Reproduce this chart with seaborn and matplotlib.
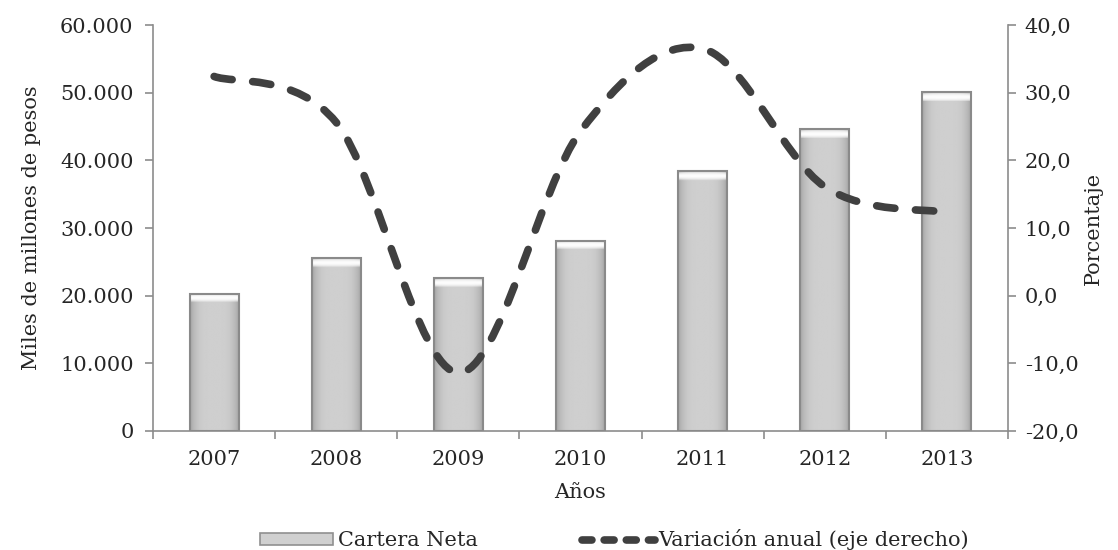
import numpy as np
import matplotlib
matplotlib.use("Agg")
import matplotlib.pyplot as plt
from matplotlib.path import Path
from matplotlib.patches import PathPatch, Patch
from matplotlib.lines import Line2D
from matplotlib.ticker import FuncFormatter, FixedLocator
import seaborn as sns

# data
years = ["2007", "2008", "2009", "2010", "2011", "2012", "2013"]
cartera_neta = [20300, 25500, 22600, 28100, 38400, 44600, 50100]
variacion = [32.4, 25.6, -11.4, 24.3, 36.5, 16.1, 12.3]

left_ticks = [0, 10000, 20000, 30000, 40000, 50000, 60000]
right_ticks = [-20, -10, 0, 10, 20, 30, 40]

sns.set_theme(style="white")
plt.rcParams["font.family"] = ["DejaVu Serif"]
fs = 15
axis_col = "#8c8c8c"
line_col = "#404040"

fig = plt.figure(figsize=(11.18, 5.5), dpi=100)
ax = fig.add_axes([0.1369, 0.2164, 0.9016 - 0.1369, 0.9545 - 0.2164])

sns.barplot(x=years, y=cartera_neta, ax=ax, width=0.4, color="#c4c4c4",
            edgecolor="#8a8a8a", linewidth=1.5, saturation=1)

# glassy gray gradient inside each bar
for p in ax.patches:
    x0, y0 = p.get_x(), p.get_y()
    w, h = p.get_width(), p.get_height()
    cols = np.linspace(-1, 1, 60)
    horiz = 0.81 - 0.16 * np.abs(cols) ** 4
    rows = np.linspace(0, 1, 300)
    band = 1300.0 / h
    top = np.clip((rows - (1 - band)) / band, 0, 1)
    img = horiz[None, :] + (0.99 - horiz[None, :]) * (np.sin(top * np.pi) ** 0.7)[:, None] * (rows > 1 - band)[:, None]
    im = ax.imshow(img, cmap="gray", vmin=0, vmax=1, aspect="auto",
                   extent=[x0, x0 + w, y0, y0 + h], origin="lower", zorder=2)
    im.set_clip_path(p)
    p.set_zorder(3)
    p.set_facecolor("none")

ax.set_xlim(-0.5, 6.5)
ax.set_ylim(0, 60000)
ax.set_yticks(left_ticks)
ax.yaxis.set_major_formatter(FuncFormatter(lambda v, _: f"{int(v):,}".replace(",", ".")))
ax.set_ylabel("Miles de millones de pesos", fontsize=fs, labelpad=14)
ax.set_xlabel("Años", fontsize=fs, labelpad=10)
ax.xaxis.set_minor_locator(FixedLocator(np.arange(-0.5, 7, 1)))
ax.tick_params(axis="x", which="major", length=0, labelsize=fs, pad=14)
ax.tick_params(axis="x", which="minor", length=6, width=1.2, color=axis_col, direction="out", bottom=True)
ax.tick_params(axis="y", length=6, width=1.2, color=axis_col, direction="out", labelsize=fs, left=True, pad=8)
for s in ["top", "right"]:
    ax.spines[s].set_visible(False)
for s in ["left", "bottom"]:
    ax.spines[s].set_color(axis_col)
    ax.spines[s].set_linewidth(1.2)

ax2 = ax.twinx()
ax2.set_ylim(-20, 40)
ax2.set_yticks(right_ticks)
ax2.yaxis.set_major_formatter(FuncFormatter(lambda v, _: f"{v:.1f}".replace(".", ",")))
ax2.tick_params(axis="y", length=6, width=1.2, color=axis_col, direction="out", labelsize=fs, right=True, pad=6)
ax2.set_ylabel("Porcentaje", fontsize=fs, labelpad=4)
for s in ["top", "left", "bottom"]:
    ax2.spines[s].set_visible(False)
ax2.spines["right"].set_color(axis_col)
ax2.spines["right"].set_linewidth(1.2)

# smoothed line (cubic Bezier segments through the data points)
xs = np.arange(len(years), dtype=float)
ys = np.array(variacion, dtype=float)
pts = np.column_stack([xs, ys])
ext = np.vstack([pts[0], pts, pts[-1]])
verts = [tuple(pts[0])]
codes = [Path.MOVETO]
for i in range(len(pts) - 1):
    p0, p1, p2, p3 = ext[i], ext[i + 1], ext[i + 2], ext[i + 3]
    c1 = p1 + (p2 - p0) / 6.0
    c2 = p2 - (p3 - p1) / 6.0
    verts += [tuple(c1), tuple(c2), tuple(p2)]
    codes += [Path.CURVE4] * 3
curve = PathPatch(Path(verts, codes), facecolor="none", edgecolor=line_col,
                  linewidth=5.5, linestyle=(0, (2.4, 2.7)), capstyle="round", zorder=5)
ax2.add_patch(curve)

handles = [
    Patch(facecolor="#d0d0d0", edgecolor="#909090", linewidth=1.2),
    Line2D([], [], color=line_col, linewidth=5.5, linestyle=(0, (1.3, 1.6)), dash_capstyle="round"),
]
fig.legend(handles, ["Cartera Neta", "Variación anual (eje derecho)"], loc="lower center",
           bbox_to_anchor=(0.55, -0.035), ncol=2, frameon=False, fontsize=fs,
           handlelength=3.5, handleheight=0.5, handletextpad=0.2, columnspacing=5.0)

fig.savefig("out.png", dpi=100)
